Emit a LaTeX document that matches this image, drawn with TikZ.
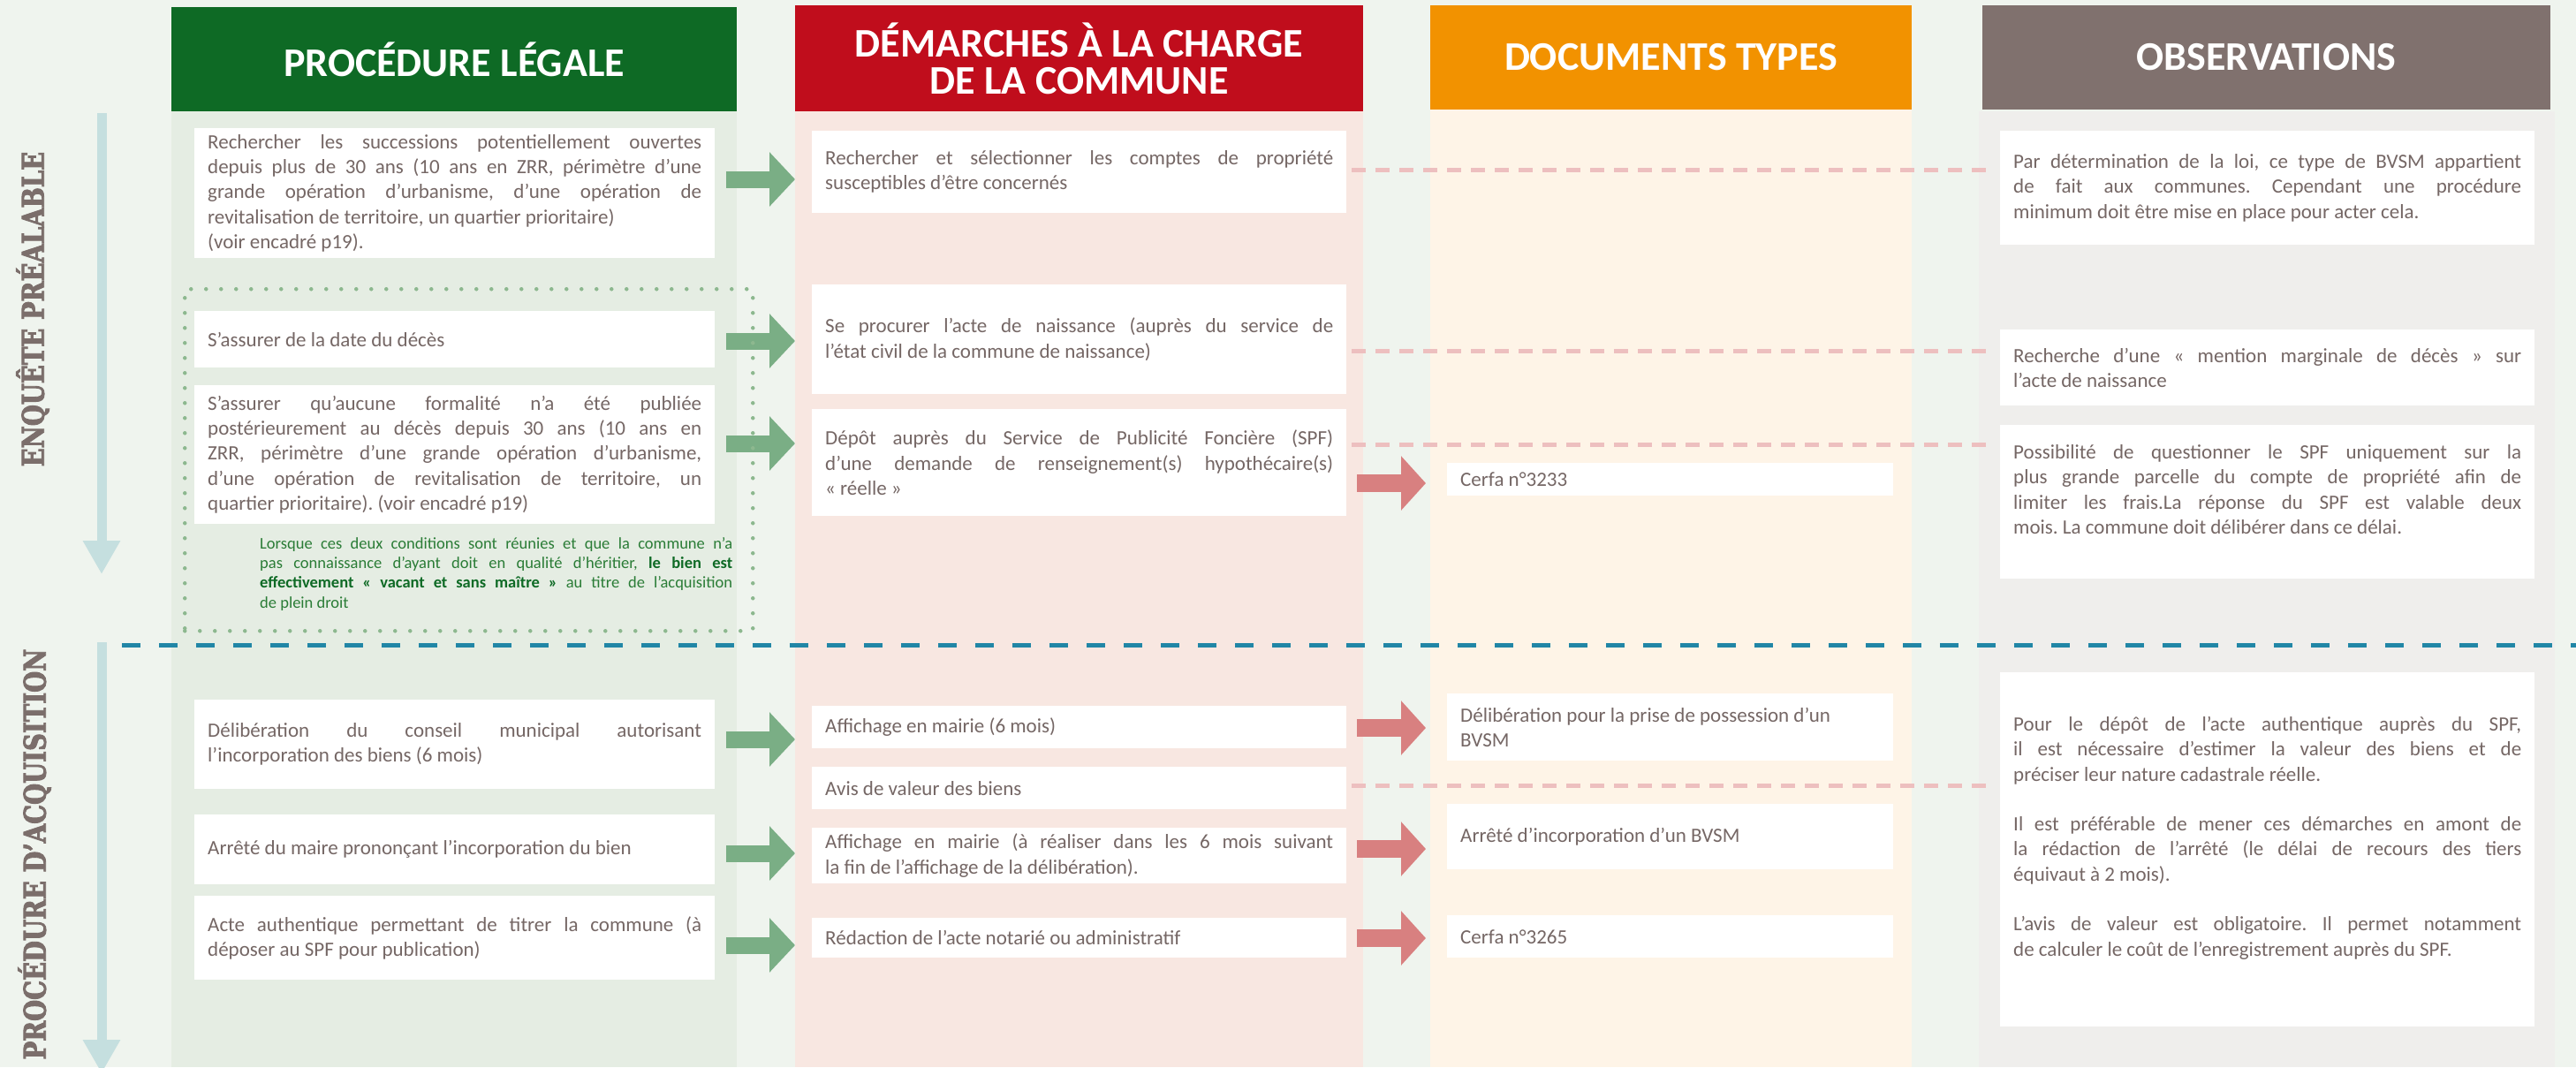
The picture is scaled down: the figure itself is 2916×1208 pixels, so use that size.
\documentclass[tikz,border=0pt]{standalone}
\usepackage{fontspec}
\setmainfont{Carlito}
\newfontfamily\sidefont{DejaVu Serif}[FakeStretch=0.81, FakeBold=2.5]
\usetikzlibrary{arrows.meta,calc}
\definecolor{bgc}{HTML}{EFF4EE}
\definecolor{colG}{HTML}{E5EDE3}
\definecolor{colR}{HTML}{F8E7E1}
\definecolor{colO}{HTML}{FEF4E7}
\definecolor{colB}{HTML}{EFEEEC}
\definecolor{hG}{HTML}{0E6A25}
\definecolor{hR}{HTML}{C00D1C}
\definecolor{hO}{HTML}{F29200}
\definecolor{hB}{HTML}{80716E}
\definecolor{txt}{HTML}{756765}
\definecolor{garr}{HTML}{7AAE85}
\definecolor{rarr}{HTML}{D88080}
\definecolor{rdash}{HTML}{EDBFBF}
\definecolor{bdash}{HTML}{2186A6}
\definecolor{varr}{HTML}{C5DFDF}
\definecolor{sidec}{HTML}{7B6E6B}
\definecolor{dotc}{HTML}{8DB88F}
\definecolor{notec}{HTML}{2A7C36}
\definecolor{noteb}{HTML}{0E6A25}
\tikzset{
  head/.style={fill=#1, text=white, font=\fontsize{46}{42}\selectfont\bfseries, align=center, inner sep=0pt},
  box/.style={fill=white, inner xsep=15pt, inner ysep=0pt, align=justify, anchor=north west, text=txt,
    font=\fontsize{23}{28.3}\selectfont},
  gbox/.style={box, text width=559pt},
  rbox/.style={box, text width=575pt},
  dbox/.style={box, text width=475pt},
  obox/.style={box, text width=575pt},
  garrow/.style={draw=garr, line width=19pt, -{Triangle[length=29pt,width=60pt]}},
  rarrow/.style={draw=rarr, line width=20pt, -{Triangle[length=28pt,width=60pt]}},
  varrow/.style={draw=varr, line width=11pt, -{Triangle[length=38pt,width=40pt]}},
  rdashed/.style={draw=rdash, line width=5pt, dash pattern=on 16pt off 11pt},
  bdashed/.style={draw=bdash, line width=5pt, dash pattern=on 21pt off 21pt},
  dotbox/.style={draw=dotc, line width=4.5pt, line cap=round, dash pattern=on 0pt off 17pt, inner sep=0pt, anchor=north west},
  side/.style={text=sidec, font=\sidefont\fontsize{34}{34}\selectfont\bfseries, rotate=90, inner sep=0pt},
  notestyle/.style={text=notec, align=justify, text width=535pt, inner sep=0pt, anchor=north west,
    font=\fontsize{18.5}{22.3}\selectfont}
}
\begin{document}
\begin{tikzpicture}[x=1pt,y=-1pt]
\hyphenpenalty=10000
\frenchspacing
\useasboundingbox (0,0) rectangle (2916,1208);
\fill[bgc] (0,0) rectangle (2916,1208);
% column backgrounds
\fill[colG] (194,126) rectangle (834,1208);
\fill[colR] (900,126) rectangle (1543,1208);
\fill[colO] (1619,124) rectangle (2164,1208);
\fill[colB] (2240,126) rectangle (2892,1208);
% headers
\node[head=hG, minimum width=640pt, minimum height=118pt] (hG) at (514,67) {PROCÉDURE LÉGALE};
\node[head=hR, minimum width=643pt, minimum height=120pt] (hR) at (1221.5,66) {DÉMARCHES À LA CHARGE\\DE LA COMMUNE};
\node[head=hO, minimum width=545pt, minimum height=118pt] (hO) at (1891.5,65) {DOCUMENTS TYPES};
\node[head=hB, minimum width=643pt, minimum height=118pt] (hB) at (2565.5,65) {OBSERVATIONS};
% side labels and vertical arrows
\node[side] (s1) at (37,350) {ENQUÊTE PRÉALABLE};
\node[side] (s2) at (39,967) {PROCÉDURE D’ACQUISITION};
\coordinate (v1s) at (115,128);
\coordinate (v1e) at (115,650);
\coordinate (v2s) at (115,727);
\coordinate (v2e) at (115,1215);
\draw[varrow] (v1s) -- (v1e);
\draw[varrow] (v2s) -- (v2e);
% separator
\coordinate (sepL) at (138,730);
\coordinate (sepR) at (2930,730);
\draw[bdashed] (sepL) -- (sepR);
% green column boxes
\node[gbox, minimum height=147pt] (G1) at (220,145) {Rechercher les successions potentiellement ouvertes\linebreak depuis plus de 30 ans (10 ans en ZRR, périmètre d’une\linebreak grande opération d’urbanisme, d’une opération de\linebreak revitalisation de territoire, un quartier prioritaire)\\(voir encadré p19).};
\node[gbox, minimum height=64pt] (G2) at (220,352) {S’assurer de la date du décès};
\node[gbox, minimum height=157pt] (G3) at (220,436) {S’assurer qu’aucune formalité n’a été publiée\linebreak postérieurement au décès depuis 30 ans (10 ans en\linebreak ZRR, périmètre d’une grande opération d’urbanisme,\linebreak d’une opération de revitalisation de territoire, un\linebreak quartier prioritaire). (voir encadré p19)};
\node[notestyle] (note) at (294,608) {Lorsque ces deux conditions sont réunies et que la commune n’a\linebreak pas connaissance d’ayant doit en qualité d’héritier, \textcolor{noteb}{\bfseries le bien est\linebreak effectivement «~vacant et sans maître~»} au titre de l’acquisition\linebreak de plein droit};
\node[gbox, minimum height=101pt] (A1) at (220,792) {Délibération du conseil municipal autorisant\linebreak l’incorporation des biens (6 mois)};
\node[gbox, minimum height=79pt] (A2) at (220,922) {Arrêté du maire prononçant l’incorporation du bien};
\node[gbox, minimum height=95pt] (A3) at (220,1014) {Acte authentique permettant de titrer la commune (à\linebreak déposer au SPF pour publication)};
% red column boxes
\node[rbox, minimum height=93pt] (R1) at (919,148) {Rechercher et sélectionner les comptes de propriété\linebreak susceptibles d’être concernés};
\node[rbox, minimum height=124pt] (R2) at (919,322) {Se procurer l’acte de naissance (auprès du service de\linebreak l’état civil de la commune de naissance)};
\node[rbox, minimum height=121pt] (R3) at (919,463) {Dépôt auprès du Service de Publicité Foncière (SPF)\linebreak d’une demande de renseignement(s) hypothécaire(s)\linebreak «~réelle~»};
\node[rbox, minimum height=48pt] (R4) at (919,799) {Affichage en mairie (6 mois)};
\node[rbox, minimum height=48pt] (R5) at (919,868) {Avis de valeur des biens};
\node[rbox, minimum height=63pt] (R6) at (919,937) {Affichage en mairie (à réaliser dans les 6 mois suivant\linebreak la fin de l’affichage de la délibération).};
\node[rbox, minimum height=45pt] (R7) at (919,1039) {Rédaction de l’acte notarié ou administratif};
% documents
\node[dbox, minimum height=37pt] (D1) at (1638,524) {Cerfa n°3233};
\node[dbox, minimum height=76pt] (D2) at (1638,785) {Délibération pour la prise de possession d’un\\BVSM};
\node[dbox, minimum height=74pt] (D3) at (1638,910) {Arrêté d’incorporation d’un BVSM};
\node[dbox, minimum height=48pt] (D4) at (1638,1036) {Cerfa n°3265};
% observations
\node[obox, minimum height=129pt] (O1) at (2264,148) {Par détermination de la loi, ce type de BVSM appartient\linebreak de fait aux communes. Cependant une procédure\linebreak minimum doit être mise en place pour acter cela.};
\node[obox, minimum height=86pt] (O2) at (2264,373) {Recherche d’une «~mention marginale de décès~» sur\linebreak l’acte de naissance};
\node[obox, minimum height=174pt] (O3) at (2264,481) {Possibilité de questionner le SPF uniquement sur la\linebreak plus grande parcelle du compte de propriété afin de\linebreak limiter les frais.La réponse du SPF est valable deux\linebreak mois. La commune doit délibérer dans ce délai.\par\vspace*{28pt}};
\node[obox, minimum height=401pt] (O4) at (2264,761) {Pour le dépôt de l’acte authentique auprès du SPF,\linebreak il est nécessaire d’estimer la valeur des biens et de\linebreak préciser leur nature cadastrale réelle.\par\vspace*{28.3pt}Il est préférable de mener ces démarches en amont de\linebreak la rédaction de l’arrêté (le délai de recours des tiers\linebreak équivaut à 2 mois).\par\vspace*{28.3pt}L’avis de valeur est obligatoire. Il permet notamment\linebreak de calculer le coût de l’enregistrement auprès du SPF.\par\vspace*{26pt}};
% arrow levels
\coordinate (g1) at (0,203);
\coordinate (g2) at (0,386);
\coordinate (g3) at (0,502);
\coordinate (g4) at (0,837);
\coordinate (g5) at (0,966);
\coordinate (g6) at (0,1070);
\coordinate (r1) at (0,547);
\coordinate (r2) at (0,824);
\coordinate (r3) at (0,961);
\coordinate (r4) at (0,1062);
\coordinate (d1) at (0,192);
\coordinate (d2) at (0,397);
\coordinate (d3) at (0,503);
\coordinate (d4) at (0,889);
% red dashed links
\draw[rdashed] ($(R1.east |- d1)+(6,0)$) -- ($(O1.west |- d1)+(-13,0)$);
\draw[rdashed] ($(R2.east |- d2)+(6,0)$) -- ($(O2.west |- d2)+(-13,0)$);
\draw[rdashed] ($(R3.east |- d3)+(6,0)$) -- ($(O3.west |- d3)+(-13,0)$);
\draw[rdashed] ($(R5.east |- d4)+(6,0)$) -- ($(O4.west |- d4)+(-13,0)$);
% green arrows
\draw[garrow] ($(G1.east |- g1)+(13,0)$) -- ($(R1.west |- g1)+(-19,0)$);
\draw[garrow] ($(G2.east |- g2)+(13,0)$) -- ($(R2.west |- g2)+(-19,0)$);
\draw[garrow] ($(G3.east |- g3)+(13,0)$) -- ($(R3.west |- g3)+(-19,0)$);
\draw[garrow] ($(A1.east |- g4)+(13,0)$) -- ($(R4.west |- g4)+(-19,0)$);
\draw[garrow] ($(A2.east |- g5)+(13,0)$) -- ($(R6.west |- g5)+(-19,0)$);
\draw[garrow] ($(A3.east |- g6)+(13,0)$) -- ($(R7.west |- g6)+(-19,0)$);
% red arrows
\draw[rarrow] ($(R3.east |- r1)+(12,0)$) -- ($(D1.west |- r1)+(-24,0)$);
\draw[rarrow] ($(R4.east |- r2)+(12,0)$) -- ($(D2.west |- r2)+(-24,0)$);
\draw[rarrow] ($(R6.east |- r3)+(12,0)$) -- ($(D3.west |- r3)+(-24,0)$);
\draw[rarrow] ($(R7.east |- r4)+(12,0)$) -- ($(D4.west |- r4)+(-24,0)$);
% dotted group
\node[dotbox, minimum width=643pt, minimum height=387pt] (grp) at (207,325) {};
\end{tikzpicture}
\end{document}
